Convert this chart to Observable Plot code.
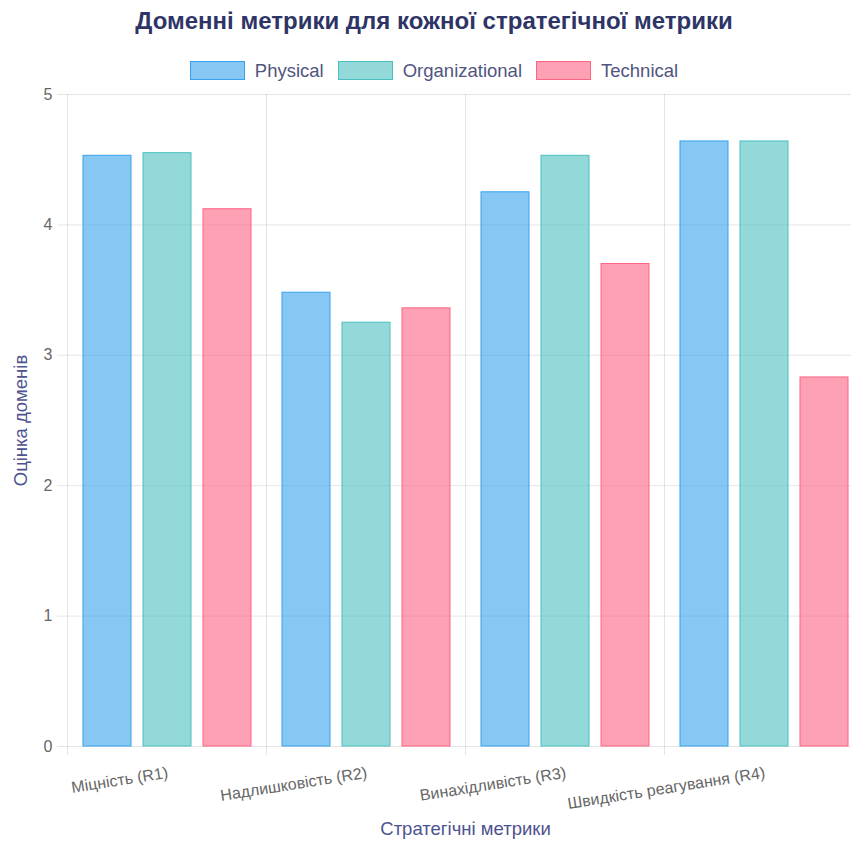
<!DOCTYPE html>
<html>
<head>
<meta charset="utf-8">
<script src="https://cdn.jsdelivr.net/npm/d3@7"></script>
<script src="https://cdn.jsdelivr.net/npm/@observablehq/plot@0.6"></script>
<style>
  body { margin: 0; background: #fff; font-family: "Liberation Sans", Arial, sans-serif; width: 851px; overflow: hidden; }
  #title { width: 868px; height: 42px; line-height: 42px; text-align: center; font-weight: bold; font-size: 24px; color: #2e3566; }
  #legend { width: 868px; display: flex; justify-content: center; align-items: center; height: 19px; margin-top: 19px; gap: 14px; font-size: 18.5px; color: #50557e; }
  #legend .item { display: flex; align-items: center; gap: 10px; }
  #legend .sw { box-sizing: border-box; width: 55px; height: 19px; border: 1px solid; }
  g[aria-label="y-axis label"], g[aria-label="fx-axis label"] { fill: #4d5390; font-size: 18.5px; }
</style>
</head>
<body>
<div id="title">Доменні метрики для кожної стратегічної метрики</div>
<div id="legend"></div>
<div id="chart"></div>
<script>
// Strategic metrics (x groups) and domain series
const categories = ["Міцність (R1)", "Надлишковість (R2)", "Винахідливість (R3)", "Швидкість реагування (R4)"];
const series = ["Physical", "Organizational", "Technical"];
const physical = [4.53, 3.48, 4.25, 4.64];
const organizational = [4.55, 3.25, 4.53, 4.64];
const technical = [4.12, 3.36, 3.70, 2.83];
const seriesColors = ["rgb(54,162,235)", "rgb(75,192,192)", "rgb(255,99,132)"];
const yTicks = [0, 1, 2, 3, 4, 5];
const yTitle = "Оцінка доменів";
const xTitle = "Стратегічні метрики";

const valuesBySeries = {Physical: physical, Organizational: organizational, Technical: technical};
const rows = categories.flatMap((category, i) =>
  series.map((s) => ({category, series: s, value: valuesBySeries[s][i]}))
);

// Legend: translucent swatch with solid border, as on the bars
const legend = document.getElementById("legend");
series.forEach((s, i) => {
  const item = document.createElement("div");
  item.className = "item";
  const sw = document.createElement("span");
  sw.className = "sw";
  sw.style.borderColor = seriesColors[i];
  sw.style.background = seriesColors[i].replace("rgb(", "rgba(").replace(")", ",0.6)");
  const label = document.createElement("span");
  label.textContent = s;
  item.append(sw, label);
  legend.append(item);
});

const chart = Plot.plot({
  width: 851,
  height: 761,
  marginTop: 14,
  marginBottom: 95,
  marginLeft: 67,
  marginRight: -12,
  style: {fontFamily: "'Liberation Sans', Arial, sans-serif", fontSize: "16px", overflow: "visible"},
  fx: {domain: categories, padding: 0},
  x: {domain: series, paddingInner: 0.2, paddingOuter: 0.258, axis: null},
  y: {domain: [0, 5]},
  color: {domain: series, range: seriesColors},
  marks: [
    Plot.gridY(yTicks, {stroke: "#000", strokeOpacity: 0.1}),
    // category separators, extended a little below the baseline
    Plot.frame({anchor: "left", stroke: "#000", strokeOpacity: 0.1, insetBottom: -8}),
    Plot.axisY(yTicks, {
      tickSize: 10, tickPadding: 5, stroke: "#000", strokeOpacity: 0.1, fill: "#666",
      tickFormat: d3.format("d"),
      label: yTitle, labelAnchor: "center", labelOffset: 54, labelArrow: "none"
    }),
    Plot.axisFx({
      anchor: "bottom", tickRotate: -9, tickSize: 0, tickPadding: 20, fill: "#666",
      textAnchor: "end",
      label: xTitle, labelAnchor: "center", labelOffset: 88, labelArrow: "none"
    }),
    Plot.barY(rows, {
      fx: "category", x: "series", y: "value",
      fill: "series", fillOpacity: 0.6, stroke: "series", strokeWidth: 1
    })
  ]
});
document.getElementById("chart").append(chart);
</script>
</body>
</html>
